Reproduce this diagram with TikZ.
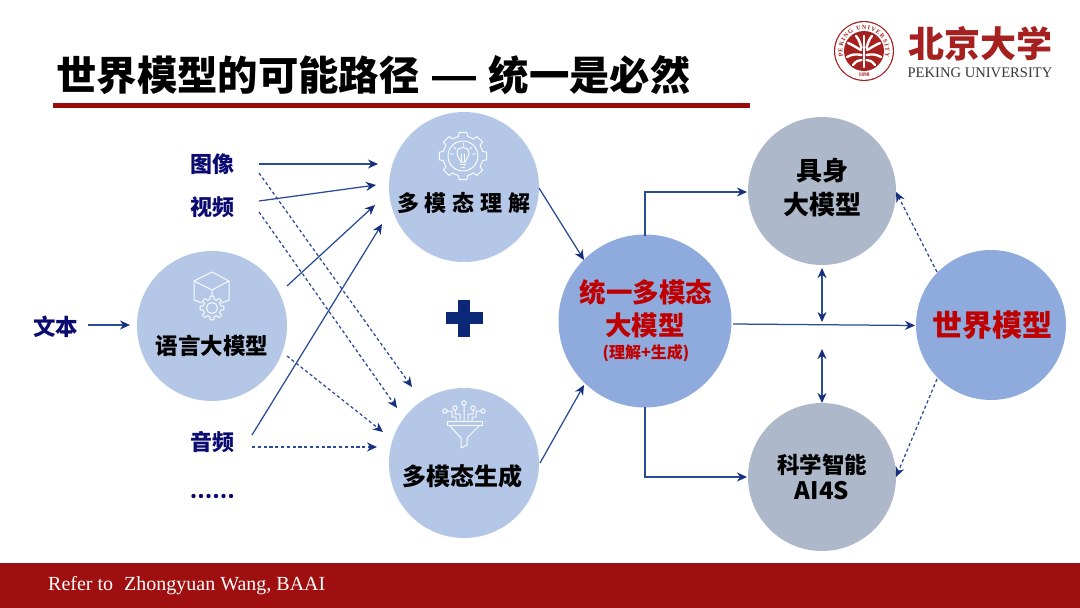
\documentclass[tikz,border=0pt]{standalone}
\usepackage{fontspec}
\setmainfont{Noto Sans CJK SC}
\newfontfamily\serifl{Liberation Serif}
\newfontfamily\sansl{Liberation Sans}
\usetikzlibrary{arrows.meta,decorations.text}
\definecolor{circA}{HTML}{B4C7E7}
\definecolor{circB}{HTML}{8FAADC}
\definecolor{circC}{HTML}{ADB9CA}
\definecolor{lineblue}{HTML}{2A4B96}
\definecolor{tipblue}{HTML}{14307F}
\definecolor{navytext}{HTML}{0A0A70}
\definecolor{plusblue}{HTML}{0B2878}
\definecolor{redtext}{HTML}{C00000}
\definecolor{barred}{HTML}{9C0A0A}
\definecolor{footred}{HTML}{A00F0F}
\definecolor{sealred}{HTML}{A5201F}
\tikzset{
 disc/.style={circle,inner sep=0pt,minimum size=#1},
 lab/.style={inner sep=0pt,font=\bfseries\fontsize{#1}{#1}\selectfont,align=center},
 tipa/.tip={Stealth[length=10pt,width=9pt,inset=3.2pt,color=tipblue]},
 conn/.style={draw=lineblue,line width=1.25pt,-tipa},
 dconn/.style={conn,dash pattern=on 3.2pt off 2.6pt},
 biconn/.style={draw=lineblue,line width=1.25pt,tipa-tipa},
 icon/.style={draw=white!92!circA,line width=1pt,line join=round,line cap=round},
 sealstroke/.style={draw=white,line width=2.4pt,line cap=round},
}
\newcommand{\geartrace}[3]{% inner, outer, teeth
  \pgfmathsetmacro{\stp}{360/#3}
  \foreach \k in {1,...,#3}{
    \pgfmathsetmacro{\an}{\k*\stp}
    \draw[icon] (\an-0.30*\stp:#1) -- (\an-0.20*\stp:#2) -- (\an+0.20*\stp:#2) -- (\an+0.30*\stp:#1) -- (\an+0.50*\stp:#1) -- (\an+0.70*\stp:#1);
  }
}
\begin{document}
\begin{tikzpicture}[x=1pt,y=-1pt]
\useasboundingbox (0,0) rectangle (1080,608);
\fill[white] (0,0) rectangle (1080,608);
% footer and title
\fill[footred] (0,563) rectangle (1080,608);
\node[anchor=west,inner sep=0pt,text=white,font=\serifl\fontsize{20}{20}\selectfont] (foot) at (48,586) {Refer to\hspace{0.3em} Zhongyuan Wang, BAAI};
\node[lab=40.4,anchor=west] (title) at (56,75) {世界模型的可能路径\kern13pt{\sansl\bfseries\fontsize{44}{44}\selectfont —}\kern12pt 统一是必然};
\fill[barred] (53,103) rectangle (750,108);
% logo
\fill[sealred] (864,51) circle (30);
\fill[white] (864,51) circle (28.8);
\fill[sealred] (864,51) circle (20);
\path[decorate,decoration={text along path,text align={fit to path},text={|\serifl\bfseries\fontsize{6.2}{6.2}\selectfont\color{sealred}|PEKING UNIVERSITY}}] (843.2,56.6) arc[start angle=165,end angle=375,radius=21.5];
\node[inner sep=0pt,text=sealred,font=\serifl\bfseries\fontsize{5.5}{5.5}\selectfont] (sealyear) at (864,75) {1898};
\begin{scope}[shift={(864,51)}]
  \draw[sealstroke] (0,-15) -- (0,16);
  \foreach \sx in {-1,1}{
    \begin{scope}[xscale=\sx]
      \draw[sealstroke] (2.5,-3) .. controls (4,-8) and (5,-12) .. (8,-15);
      \draw[sealstroke] (3,-1) .. controls (7,-3) and (11,-6) .. (16,-8);
      \draw[sealstroke] (2.5,4) .. controls (7,3) and (12,3) .. (17,6);
      \draw[sealstroke] (2.5,9) .. controls (5,9) and (8,10) .. (11,14);
    \end{scope}
  }
\end{scope}
\node[inner sep=0pt,text=sealred,font=\bfseries\fontsize{36}{36}\selectfont] (pkucn) at (980,44) {北京大学};
\node[inner sep=0pt,text=black!78,font=\serifl\fontsize{14.6}{14.6}\selectfont] (pkuen) at (980,73) {PEKING UNIVERSITY};
% circles
\node[disc=150pt,fill=circA] (llm) at (212,326) {};
\node[disc=150pt,fill=circA] (und) at (464,187) {};
\node[disc=150pt,fill=circA] (gen) at (464,463) {};
\node[disc=173pt,fill=circB] (uni) at (645,321) {};
\node[disc=148pt,fill=circC] (emb) at (822,191) {};
\node[disc=148pt,fill=circC] (sci) at (822,477) {};
\node[disc=150pt,fill=circB] (wm) at (991,325) {};
% icons: gear with bulb
\begin{scope}[shift={(463,156)}]
  \geartrace{20}{24}{8}
  \draw[icon] (0,0) circle (15);
  \draw[icon] (-2.5,6) .. controls (-2.5,3) and (-6,1) .. (-6,-3) .. controls (-6,-10.5) and (6,-10.5) .. (6,-3) .. controls (6,1) and (2.5,3) .. (2.5,6) -- cycle;
  \draw[icon] (-2.5,8.5) -- (2.5,8.5) (-1.5,11) -- (1.5,11);
  \draw[icon] (-1.7,6) -- (-1.7,-2) (1.7,6) -- (1.7,-2);
  \foreach \ra in {190,225,270,315,350}{\draw[icon] (\ra:10) -- (\ra:12.5);}
\end{scope}
% icons: cube and gear
\draw[icon] (202,303) -- (194,300) -- (194,281) -- (212,272) -- (229,281) -- (229,300) -- (222,303)
            (194,281) -- (212,290) -- (229,281) (212,290) -- (212,297);
\begin{scope}[shift={(212,308)}]
  \geartrace{9}{12}{8}
  \draw[icon] (0,0) circle (5.5);
\end{scope}
% icons: funnel
\draw[icon] (447,421) -- (482,421) -- (482,425) -- (447,425) -- cycle;
\draw[icon] (449,425) -- (461,438) -- (461,448) -- (467,445) -- (467,438) -- (480,425);
\draw[icon] (464,421) -- (464,405.5) (464,403) circle (2.2);
\draw[icon] (460,420) -- (460,414) -- (455,414) -- (455,410.5) (455,408) circle (2.2);
\draw[icon] (468,420) -- (468,414) -- (473,414) -- (473,410.5) (473,408) circle (2.2);
\draw[icon] (456,420) -- (456,417) -- (452,417) -- (452,411) -- (447.5,411) (445,411) circle (2.2);
\draw[icon] (472,420) -- (472,417) -- (476,417) -- (476,411) -- (480.5,411) (483,411) circle (2.2);
% plus
\fill[plusblue] (458,299.5) rectangle (470,336.5);
\fill[plusblue] (445.5,312) rectangle (482.5,324);
% text labels
\node[lab=22.5,text=navytext] (ltext) at (56,327) {文本};
\node[lab=22,text=navytext] (limg) at (212,164) {图像};
\node[lab=22,text=navytext] (lvid) at (212,207) {视频};
\node[lab=22,text=navytext] (laud) at (212,442) {音频};
\foreach \dx in {0,1,2,3,4,5}{\fill[navytext] (193.5+\dx*7.5,496) circle (2.2);}
\node[lab=22.5] (tllm) at (212,346) {语言大模型};
\node[lab=22] (tund) at (464,203) {多\kern6pt 模\kern6pt 态\kern6pt 理\kern6pt 解};
\node[lab=24] (tgen) at (462,476) {多模态生成};
\node[lab=26.5,text=redtext] (tuni1) at (646,292) {统一多模态};
\node[lab=26.5,text=redtext] (tuni2) at (645,325) {大模型};
\node[lab=16,text=redtext] (tuni3) at (646,353) {(理解+生成)};
\node[lab=26] (temb1) at (822,171) {具身};
\node[lab=26] (temb2) at (822,205) {大模型};
\node[lab=22.5] (tsci1) at (822,465) {科学智能};
\node[lab=24] (tsci2) at (822,491) {AI4S};
\node[lab=30,text=redtext] (twm) at (992,325) {世界模型};
% connector free ends
\coordinate (a1) at (88,325); \coordinate (a2) at (130,325);
\coordinate (b1) at (259,164); \coordinate (b2) at (378,164);
\coordinate (c1) at (259,201); \coordinate (c2) at (376,185);
\coordinate (d1) at (287,286); \coordinate (d2) at (375,205);
\coordinate (e1) at (252,435); \coordinate (e2) at (382,224);
\coordinate (f1) at (259,173); \coordinate (f2) at (412,387);
\coordinate (g1) at (259,212); \coordinate (g2) at (397,408);
\coordinate (h1) at (287,356); \coordinate (h2) at (383,432);
\coordinate (i1) at (252,447); \coordinate (i2) at (377,447);
\coordinate (j1) at (539,188); \coordinate (j2) at (584,260);
\coordinate (k1) at (540,463); \coordinate (k2) at (584,385);
\coordinate (l1) at (645,236); \coordinate (l2) at (645,192); \coordinate (l3) at (747,192);
\coordinate (m1) at (645,407); \coordinate (m2) at (645,477); \coordinate (m3) at (747,477);
\coordinate (n1) at (733,324); \coordinate (n2) at (915,325.5);
\coordinate (o1) at (822,268); \coordinate (o2) at (822,322);
\coordinate (p1) at (822,349); \coordinate (p2) at (822,403);
\coordinate (q1) at (937,272); \coordinate (q2) at (896,192);
\coordinate (r1) at (937,379); \coordinate (r2) at (896,477);
% connectors
\draw[conn] (a1) -- (a2);
\draw[conn] (b1) -- (b2);
\draw[conn] (c1) -- (c2);
\draw[conn] (d1) -- (d2);
\draw[conn] (e1) -- (e2);
\draw[dconn] (f1) -- (f2);
\draw[dconn] (g1) -- (g2);
\draw[dconn] (h1) -- (h2);
\draw[dconn] (i1) -- (i2);
\draw[conn] (j1) -- (j2);
\draw[conn] (k1) -- (k2);
\draw[conn] (l1) -- (l2) -- (l3);
\draw[conn] (m1) -- (m2) -- (m3);
\draw[conn] (n1) -- (n2);
\draw[biconn] (o1) -- (o2);
\draw[biconn] (p1) -- (p2);
\draw[dconn] (q1) -- (q2);
\draw[dconn] (r1) -- (r2);
\end{tikzpicture}
\end{document}
